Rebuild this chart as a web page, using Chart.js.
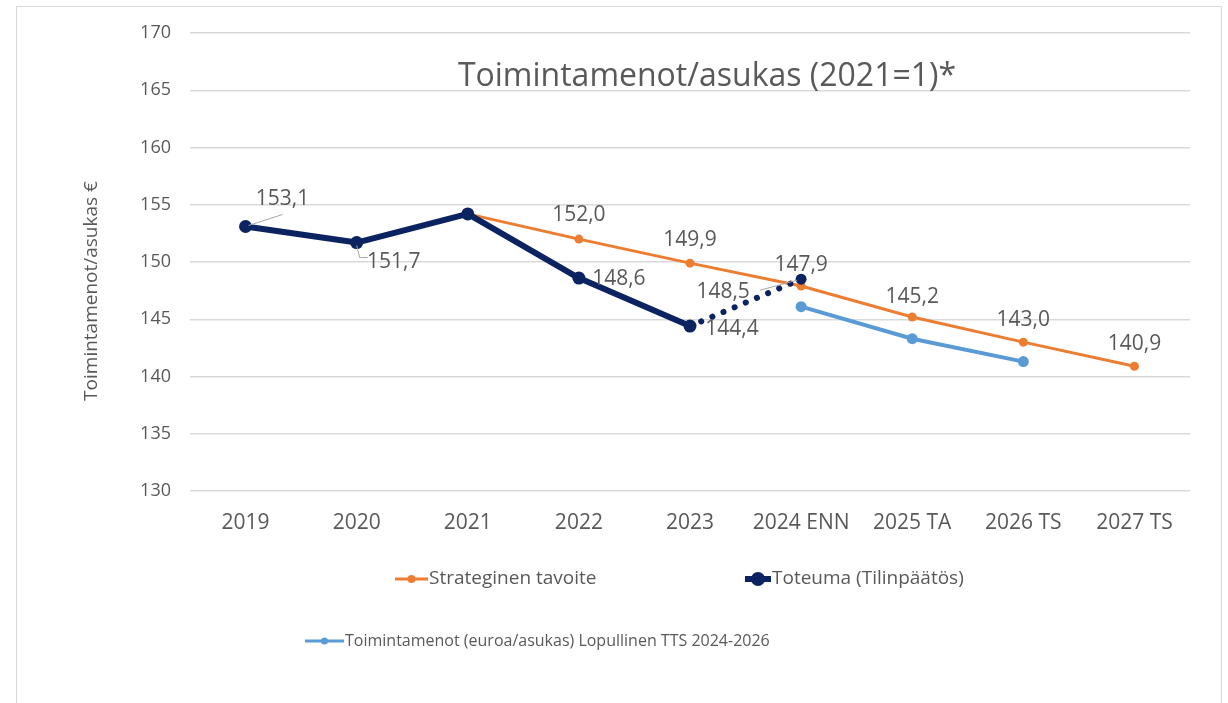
<!DOCTYPE html>
<html>
<head>
<meta charset="utf-8">
<script src="https://cdn.jsdelivr.net/npm/chart.js@4/dist/chart.umd.min.js"></script>
<style>
  html, body { margin: 0; padding: 0; background: #fff; }
  #wrap { position: relative; width: 1228px; height: 703px; }
</style>
</head>
<body>
<div id="wrap"><canvas id="chart" width="1228" height="703"></canvas></div>
<script>
// data
const labels = ['2019', '2020', '2021', '2022', '2023', '2024 ENN', '2025 TA', '2026 TS', '2027 TS'];
const tavoite = [null, null, 154.2, 152.0, 149.9, 147.9, 145.2, 143.0, 140.9];
const toteuma = [153.1, 151.7, 154.2, 148.6, 144.4, 148.5, null, null, null];
const ttsLopullinen = [null, null, null, null, null, 146.1, 143.3, 141.3, null];
const yTicks = [130, 135, 140, 145, 150, 155, 160, 165, 170];

const TEXT = '#595959';
const ORANGE = '#ED7D31';
const NAVY = '#0B2361';
const BLUE = '#5B9BD5';
const FONT = '"Open Sans", sans-serif';

// where each value label sits relative to its point (dx, dy) + optional leader line
const toteumaLabels = {
    0: { dx: 37, dy: -27, leader: [[3, -1], [37, -12]] },
    1: { dx: 37, dy: 19, leader: [[0, 3], [3, 15], [11, 15]] },
    3: { dx: 40, dy: 1 },
    4: { dx: 42, dy: 3 },
    5: { dx: -78, dy: 13, leader: [[-41, 11], [-4, 1]] }
};
const tavoiteLabels = {
    3: { dx: 0, dy: -24 },
    4: { dx: 0, dy: -23 },
    5: { dx: 0, dy: -21 },
    6: { dx: 0, dy: -20 },
    7: { dx: 0, dy: -22 },
    8: { dx: 0, dy: -22 }
};

const fmt = v => v.toFixed(1).replace('.', ',');

const frame = {
    id: 'frame',
    beforeDraw(chart) {
        const c = chart.ctx;
        c.save();
        c.strokeStyle = '#d9d9d9';
        c.lineWidth = 1;
        c.strokeRect(16.5, 6.5, 1205, 760);
        c.restore();
    }
};

const valueLabels = {
    id: 'valueLabels',
    afterDatasetsDraw(chart) {
        const c = chart.ctx;
        c.save();
        c.font = '21px ' + FONT;
        c.fillStyle = TEXT;
        c.textAlign = 'center';
        c.textBaseline = 'middle';
        const sets = [[0, toteumaLabels], [1, tavoiteLabels]];
        sets.forEach(([dsIdx, conf]) => {
            const meta = chart.getDatasetMeta(dsIdx);
            const data = chart.data.datasets[dsIdx].data;
            Object.keys(conf).forEach(k => {
                const i = +k;
                const pt = meta.data[i];
                const o = conf[k];
                if (o.leader) {
                    c.strokeStyle = '#a6a6a6';
                    c.lineWidth = 1;
                    c.beginPath();
                    o.leader.forEach(([lx, ly], j) => {
                        if (j === 0) c.moveTo(pt.x + lx, pt.y + ly);
                        else c.lineTo(pt.x + lx, pt.y + ly);
                    });
                    c.stroke();
                }
                c.fillText(fmt(data[i]), pt.x + o.dx, pt.y + o.dy);
            });
        });
        c.restore();
    }
};

const decorations = {
    id: 'decorations',
    afterDraw(chart) {
        const c = chart.ctx;
        c.save();
        c.fillStyle = TEXT;
        // title sits inside the plot
        c.font = '32px ' + FONT;
        c.textAlign = 'center';
        c.textBaseline = 'middle';
        c.fillText('Toimintamenot/asukas (2021=1)*', 707, 77);
        // y axis title
        c.save();
        c.translate(92, 291);
        c.rotate(-Math.PI / 2);
        c.font = '19px ' + FONT;
        c.fillText('Toimintamenot/asukas €', 0, 0);
        c.restore();

        // legend
        const item = (x1, x2, y, color, lw, r, text, size) => {
            c.strokeStyle = color;
            c.lineWidth = lw;
            c.beginPath();
            c.moveTo(x1, y);
            c.lineTo(x2, y);
            c.stroke();
            c.fillStyle = color;
            c.beginPath();
            c.arc((x1 + x2) / 2, y, r, 0, Math.PI * 2);
            c.fill();
            c.fillStyle = TEXT;
            c.font = size + 'px ' + FONT;
            c.textAlign = 'left';
            c.fillText(text, x2 + 1, y);
        };
        item(395, 428, 579, ORANGE, 3, 4, chart.data.datasets[1].label, 19);
        item(745, 771, 579, NAVY, 6, 7, chart.data.datasets[0].label, 19);
        item(305, 344, 641, BLUE, 3, 3.5, chart.data.datasets[2].label, 16);
        c.restore();
    }
};

new Chart(document.getElementById('chart'), {
    type: 'line',
    data: {
        labels: labels,
        datasets: [
            {
                label: 'Toteuma (Tilinpäätös)',
                data: toteuma,
                borderColor: NAVY,
                backgroundColor: NAVY,
                borderWidth: 6,
                pointRadius: [6.5, 6.5, 6.5, 6.5, 6.5, 5.5],
                pointBorderWidth: 0,
                pointBackgroundColor: NAVY,
                borderJoinStyle: 'round',
                segment: {
                    borderDash: ctx => ctx.p1DataIndex === 5 ? [0.1, 12] : undefined,
                    borderWidth: ctx => ctx.p1DataIndex === 5 ? 6 : 6,
                    borderCapStyle: ctx => ctx.p1DataIndex === 5 ? 'round' : 'butt'
                },
                tension: 0
            },
            {
                label: 'Strateginen tavoite',
                data: tavoite,
                borderColor: ORANGE,
                backgroundColor: ORANGE,
                borderWidth: 3,
                pointRadius: 4.5,
                pointBorderWidth: 0,
                pointBackgroundColor: ORANGE,
                tension: 0
            },
            {
                label: 'Toimintamenot (euroa/asukas) Lopullinen TTS 2024-2026',
                data: ttsLopullinen,
                borderColor: BLUE,
                backgroundColor: BLUE,
                borderWidth: 4,
                pointRadius: 5.5,
                pointBorderWidth: 0,
                pointBackgroundColor: BLUE,
                tension: 0
            }
        ]
    },
    options: {
        responsive: false,
        animation: false,
        events: [],
        layout: { padding: { left: 0, top: 33, right: 38, bottom: 0 } },
        plugins: {
            legend: { display: false },
            title: { display: false },
            tooltip: { enabled: false }
        },
        scales: {
            x: {
                offset: true,
                grid: { display: false, drawTicks: false },
                border: { display: false },
                ticks: { color: TEXT, font: { family: FONT, size: 21 }, padding: 19, maxRotation: 0, autoSkip: false },
                afterFit: s => { s.height = 212; }
            },
            y: {
                min: 130,
                max: 170,
                afterBuildTicks: s => { s.ticks = yTicks.map(v => ({ value: v })); },
                grid: { color: '#d9d9d9', lineWidth: 1.5, drawTicks: false },
                border: { display: false },
                ticks: { color: TEXT, font: { family: FONT, size: 18 }, padding: 19 },
                afterFit: s => { s.width = 190; }
            }
        }
    },
    plugins: [frame, valueLabels, decorations]
});
</script>
</body>
</html>
